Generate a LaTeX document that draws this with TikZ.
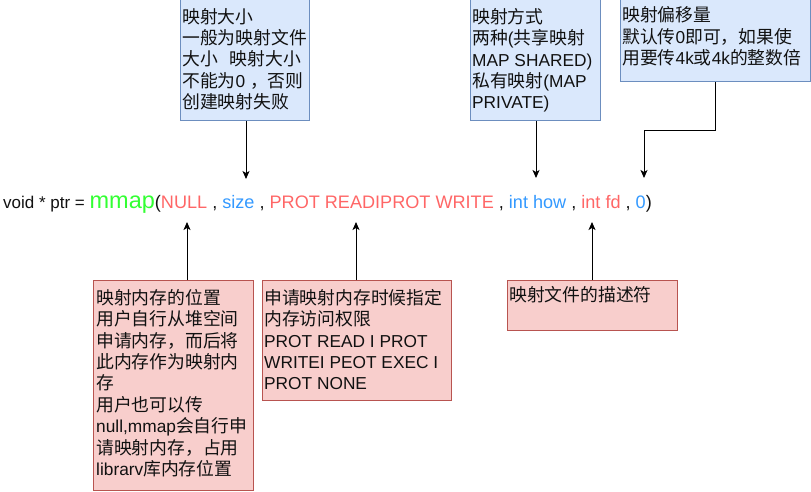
\documentclass[tikz,border=0pt]{standalone}
\usepackage{fontspec}
\setmainfont{Liberation Sans}
\newfontfamily\cjk[Scale=1.03]{Noto Sans CJK SC}
\usetikzlibrary{arrows.meta}
\XeTeXinterchartokenstate=1
\newXeTeXintercharclass\cjkcls
\newcount\cjkcc
\cjkcc="3000
\loop\XeTeXcharclass\cjkcc=\cjkcls\advance\cjkcc by 1\ifnum\cjkcc<"3040\repeat
\cjkcc="4E00
\loop\XeTeXcharclass\cjkcc=\cjkcls\advance\cjkcc by 1\ifnum\cjkcc<"A000\repeat
\cjkcc="FF00
\loop\XeTeXcharclass\cjkcc=\cjkcls\advance\cjkcc by 1\ifnum\cjkcc<"FF60\repeat
\XeTeXinterchartoks 0 \cjkcls = {\cjk}
\XeTeXinterchartoks 4095 \cjkcls = {\cjk}
\XeTeXinterchartoks \cjkcls 0 = {\rmfamily}
\XeTeXinterchartoks \cjkcls 4095 = {\rmfamily}
\definecolor{bfill}{HTML}{DAE8FC}
\definecolor{bline}{HTML}{6C8EBF}
\definecolor{pfill}{HTML}{F8CECC}
\definecolor{pline}{HTML}{B85450}
\definecolor{mred}{HTML}{FF6666}
\definecolor{mblue}{HTML}{3399FF}
\definecolor{mgreen}{HTML}{33FF33}
\definecolor{txt}{HTML}{111111}
\tikzset{
  bluebox/.style={draw=bline, fill=bfill, line width=1pt, anchor=north west, inner sep=0pt},
  pinkbox/.style={draw=pline, fill=pfill, line width=1pt, anchor=north west, inner sep=0pt},
  boxtext/.style={anchor=north west, inner sep=0pt, align=left, text=txt, font=\fontsize{17.3}{21.4}\selectfont},
  arr/.style={draw=black, line width=1pt, -{Stealth[length=8pt,width=7pt,inset=2pt]}}
}
\begin{document}
\begin{tikzpicture}[x=1pt,y=-1pt]
\useasboundingbox (0,0) rectangle (811,491);
% top boxes
\node[bluebox, minimum width=129pt, minimum height=121pt] (b1) at (180,-1) {};
\node[boxtext] (b1t) at (182,8) {映射大小\\一般为映射文件\\大小\hspace{0.7em}映射大小\\不能为0 ，否则\\创建映射失败};
\node[bluebox, minimum width=130pt, minimum height=121pt] (b2) at (470,-1) {};
\node[boxtext] (b2t) at (472,8) {映射方式\\两种(共享映射\\MAP SHARED)\\私有映射(MAP\\PRIVATE)};
\node[bluebox, minimum width=190pt, minimum height=82pt] (b3) at (620,-1) {};
\node[boxtext] (b3t) at (622,6.5) {映射偏移量\\默认传0即可，如果使\\用要传4k或4k的整数倍};
% code line
\node[anchor=base west, inner sep=0pt, text=txt, font=\fontsize{17}{20}\selectfont] (code) at (3,208)
 {void * ptr = {\color{mgreen}\fontsize{23.5}{23}\selectfont mmap}{\fontsize{18.1}{20}\selectfont(\textcolor{mred}{NULL} , \textcolor{mblue}{size} , \textcolor{mred}{PROT READIPROT WRITE} , \textcolor{mblue}{int how} , \textcolor{mred}{int fd} , \textcolor{mblue}{0})}};
% bottom boxes
\node[pinkbox, minimum width=160pt, minimum height=210pt] (p1) at (93,280) {};
\node[boxtext] (p1t) at (96,289) {映射内存的位置\\用户自行从堆空间\\申请内存，而后将\\此内存作为映射内\\存\\用户也可以传\\null,mmap会自行申\\请映射内存，占用\\librarv库内存位置};
\node[pinkbox, minimum width=189pt, minimum height=120pt] (p2) at (262,280) {};
\node[boxtext] (p2t) at (264,289) {申请映射内存时候指定\\内存访问权限\\PROT READ I PROT\\WRITEI PEOT EXEC I\\PROT NONE};
\node[pinkbox, minimum width=170pt, minimum height=50pt] (p3) at (507,280) {};
\node[boxtext] (p3t) at (509,286) {映射文件的描述符};
% arrow targets
\coordinate (tsize) at (246,179);
\coordinate (thow) at (536,178);
\coordinate (toff) at (644,178);
\coordinate (bend) at (644,130);
\coordinate (tnull) at (187,222);
\coordinate (tprot) at (356,222);
\coordinate (tfd) at (592,222);
% connectors
\draw[arr] (b1.south -| tsize) -- (tsize);
\draw[arr] (b2.south -| thow) -- (thow);
\draw[arr] (b3.south) |- (bend) -- (toff);
\draw[arr] (p1.north -| tnull) -- (tnull);
\draw[arr] (p2.north -| tprot) -- (tprot);
\draw[arr] (p3.north -| tfd) -- (tfd);
\end{tikzpicture}
\end{document}
